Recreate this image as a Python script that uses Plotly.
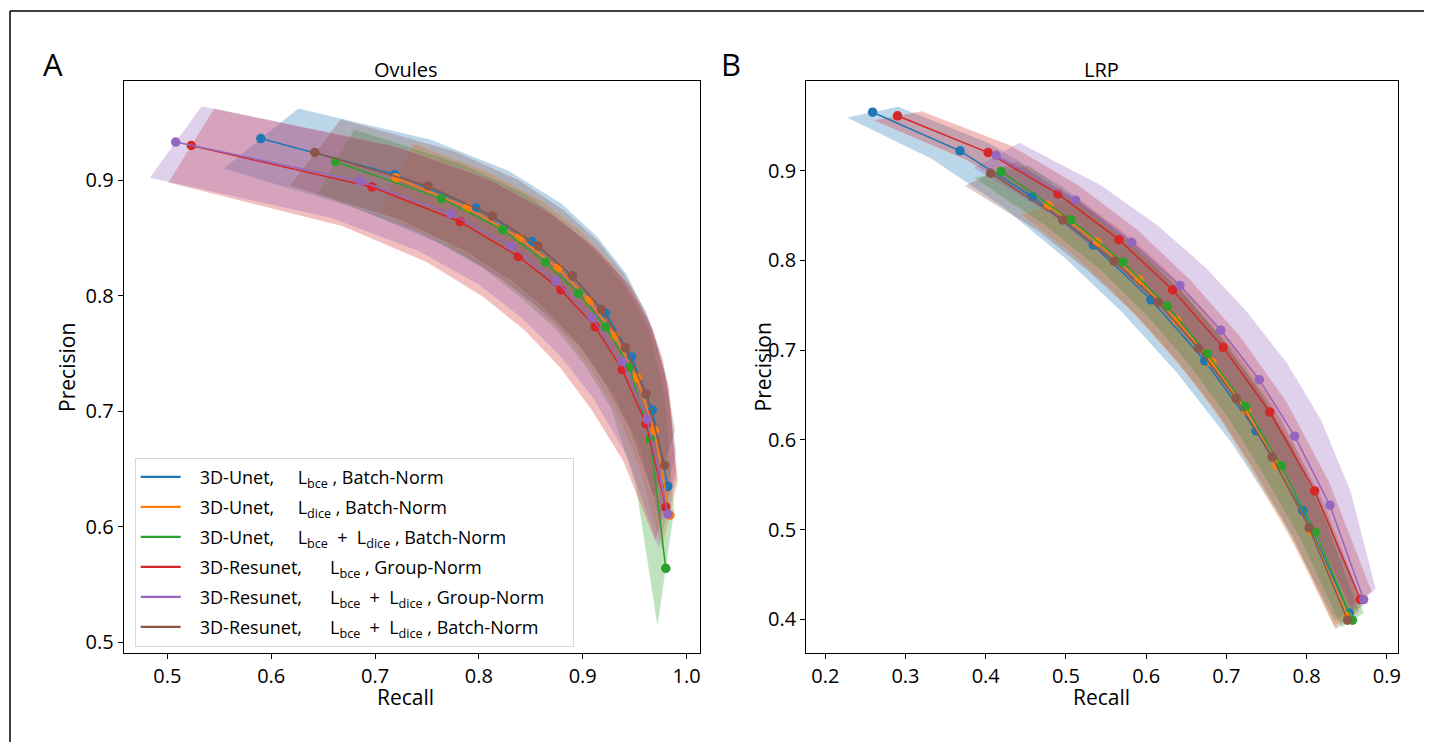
import plotly.graph_objects as go

# The page body has an 8px default margin; the figure is sized and placed so
# that reference pixel coordinates map straight onto the screenshot.
OFF = 8
W, H = 1432 - OFF, 742 - OFF

# ---------------- data ----------------
SP = "\u00a0"
SERIES_LABELS = [
    SP * 3 + "3D-Unet," + SP * 5 + "L<sub>bce</sub>" + SP + ", Batch-Norm",
    SP * 3 + "3D-Unet," + SP * 5 + "L<sub>dice</sub>" + SP + ", Batch-Norm",
    SP * 3 + "3D-Unet," + SP * 5 + "L<sub>bce</sub>" + SP * 2 + "+" + SP * 2 + "L<sub>dice</sub>" + SP + ", Batch-Norm",
    SP * 3 + "3D-Resunet," + SP * 6 + "L<sub>bce</sub>" + SP + ", Group-Norm",
    SP * 3 + "3D-Resunet," + SP * 6 + "L<sub>bce</sub>" + SP * 2 + "+" + SP * 2 + "L<sub>dice</sub>" + SP + ", Group-Norm" + SP * 5,
    SP * 3 + "3D-Resunet," + SP * 6 + "L<sub>bce</sub>" + SP * 2 + "+" + SP * 2 + "L<sub>dice</sub>" + SP + ", Batch-Norm",
]

# Panel A : Ovules
ov_unet_bce_recall = [0.590, 0.719, 0.797, 0.851, 0.890, 0.922, 0.947, 0.967, 0.982]
ov_unet_bce_precision = [0.936, 0.905, 0.876, 0.847, 0.817, 0.785, 0.747, 0.701, 0.635]
ov_unet_bce_recall_sd = [0.036, 0.035, 0.032, 0.028, 0.024, 0.020, 0.016, 0.012, 0.008]
ov_unet_bce_precision_sd = [0.026, 0.030, 0.032, 0.033, 0.034, 0.034, 0.034, 0.032, 0.030]

ov_unet_dice_recall = [0.720, 0.789, 0.839, 0.876, 0.906, 0.931, 0.952, 0.969, 0.984]
ov_unet_dice_precision = [0.902, 0.876, 0.850, 0.824, 0.796, 0.765, 0.729, 0.683, 0.610]
ov_unet_dice_recall_sd = [0.017, 0.020, 0.022, 0.022, 0.021, 0.020, 0.018, 0.014, 0.008]
ov_unet_dice_precision_sd = [0.030, 0.031, 0.032, 0.032, 0.032, 0.032, 0.032, 0.032, 0.030]

ov_unet_mix_recall = [0.662, 0.764, 0.823, 0.864, 0.896, 0.922, 0.945, 0.965, 0.980]
ov_unet_mix_precision = [0.916, 0.884, 0.857, 0.829, 0.802, 0.773, 0.738, 0.676, 0.564]
ov_unet_mix_recall_sd = [0.018, 0.020, 0.022, 0.022, 0.021, 0.020, 0.018, 0.014, 0.008]
ov_unet_mix_precision_sd = [0.028, 0.030, 0.031, 0.032, 0.032, 0.033, 0.035, 0.040, 0.050]

ov_res_bce_gn_recall = [0.523, 0.697, 0.782, 0.838, 0.879, 0.912, 0.938, 0.961, 0.980]
ov_res_bce_gn_precision = [0.930, 0.894, 0.864, 0.834, 0.805, 0.773, 0.736, 0.689, 0.617]
ov_res_bce_gn_recall_sd = [0.022, 0.028, 0.032, 0.034, 0.035, 0.034, 0.030, 0.022, 0.010]
ov_res_bce_gn_precision_sd = [0.032, 0.034, 0.035, 0.035, 0.035, 0.035, 0.034, 0.032, 0.030]

ov_res_mix_gn_recall = [0.508, 0.686, 0.773, 0.831, 0.874, 0.909, 0.938, 0.962, 0.982]
ov_res_mix_gn_precision = [0.933, 0.899, 0.871, 0.843, 0.813, 0.781, 0.743, 0.693, 0.611]
ov_res_mix_gn_recall_sd = [0.025, 0.028, 0.030, 0.032, 0.032, 0.031, 0.028, 0.020, 0.009]
ov_res_mix_gn_precision_sd = [0.031, 0.032, 0.033, 0.033, 0.033, 0.033, 0.032, 0.031, 0.030]

ov_res_mix_bn_recall = [0.642, 0.751, 0.813, 0.857, 0.890, 0.918, 0.941, 0.961, 0.979]
ov_res_mix_bn_precision = [0.924, 0.895, 0.869, 0.843, 0.817, 0.788, 0.755, 0.715, 0.653]
ov_res_mix_bn_recall_sd = [0.025, 0.026, 0.026, 0.025, 0.024, 0.022, 0.020, 0.016, 0.010]
ov_res_mix_bn_precision_sd = [0.029, 0.030, 0.031, 0.031, 0.031, 0.031, 0.031, 0.031, 0.030]

# Panel B : LRP
lrp_unet_bce_recall = [0.259, 0.368, 0.458, 0.534, 0.606, 0.673, 0.737, 0.795, 0.853]
lrp_unet_bce_precision = [0.965, 0.922, 0.871, 0.817, 0.756, 0.688, 0.610, 0.521, 0.407]
lrp_unet_bce_recall_sd = [0.032, 0.035, 0.036, 0.036, 0.036, 0.034, 0.030, 0.025, 0.018]
lrp_unet_bce_precision_sd = [0.006, 0.009, 0.012, 0.014, 0.014, 0.014, 0.014, 0.012, 0.008]

lrp_unet_dice_recall = [0.478, 0.539, 0.591, 0.638, 0.682, 0.725, 0.763, 0.805, 0.851]
lrp_unet_dice_precision = [0.861, 0.820, 0.778, 0.733, 0.686, 0.632, 0.572, 0.499, 0.403]
lrp_unet_dice_recall_sd = [0.034, 0.034, 0.034, 0.033, 0.032, 0.030, 0.028, 0.024, 0.017]
lrp_unet_dice_precision_sd = [0.010, 0.011, 0.012, 0.013, 0.013, 0.013, 0.012, 0.011, 0.011]

lrp_unet_mix_recall = [0.419, 0.506, 0.571, 0.626, 0.676, 0.724, 0.768, 0.811, 0.857]
lrp_unet_mix_precision = [0.899, 0.845, 0.798, 0.749, 0.696, 0.637, 0.571, 0.497, 0.399]
lrp_unet_mix_recall_sd = [0.034, 0.030, 0.028, 0.026, 0.025, 0.024, 0.022, 0.018, 0.014]
lrp_unet_mix_precision_sd = [0.007, 0.008, 0.009, 0.010, 0.010, 0.010, 0.010, 0.009, 0.008]

lrp_res_bce_gn_recall = [0.290, 0.403, 0.490, 0.566, 0.633, 0.696, 0.754, 0.810, 0.867]
lrp_res_bce_gn_precision = [0.961, 0.920, 0.874, 0.823, 0.767, 0.703, 0.631, 0.543, 0.422]
lrp_res_bce_gn_recall_sd = [0.030, 0.028, 0.025, 0.023, 0.022, 0.022, 0.021, 0.018, 0.014]
lrp_res_bce_gn_precision_sd = [0.005, 0.008, 0.010, 0.011, 0.011, 0.011, 0.011, 0.010, 0.009]

lrp_res_mix_gn_recall = [0.413, 0.512, 0.582, 0.642, 0.693, 0.741, 0.785, 0.829, 0.871]
lrp_res_mix_gn_precision = [0.917, 0.867, 0.820, 0.772, 0.722, 0.667, 0.604, 0.527, 0.422]
lrp_res_mix_gn_recall_sd = [0.029, 0.031, 0.032, 0.032, 0.033, 0.034, 0.033, 0.026, 0.015]
lrp_res_mix_gn_precision_sd = [0.014, 0.017, 0.019, 0.020, 0.020, 0.019, 0.018, 0.015, 0.012]

lrp_res_mix_bn_recall = [0.406, 0.496, 0.560, 0.615, 0.665, 0.712, 0.757, 0.803, 0.851]
lrp_res_mix_bn_precision = [0.897, 0.845, 0.799, 0.753, 0.702, 0.646, 0.581, 0.502, 0.399]
lrp_res_mix_bn_recall_sd = [0.032, 0.030, 0.030, 0.029, 0.028, 0.027, 0.025, 0.020, 0.015]
lrp_res_mix_bn_precision_sd = [0.014, 0.013, 0.013, 0.013, 0.013, 0.012, 0.012, 0.011, 0.010]

X_TICKS_A = [0.5, 0.6, 0.7, 0.8, 0.9, 1.0]
Y_TICKS_A = [0.5, 0.6, 0.7, 0.8, 0.9]
X_TICKS_B = [0.2, 0.3, 0.4, 0.5, 0.6, 0.7, 0.8, 0.9]
Y_TICKS_B = [0.4, 0.5, 0.6, 0.7, 0.8, 0.9]

# ---------------- style ----------------
COLORS = [(31, 119, 180), (255, 127, 14), (44, 160, 44),
          (214, 39, 40), (148, 103, 189), (140, 86, 75)]
FONT = "Open Sans, DejaVu Sans, sans-serif"

panel_a = [
    (ov_unet_bce_recall, ov_unet_bce_precision, ov_unet_bce_recall_sd, ov_unet_bce_precision_sd),
    (ov_unet_dice_recall, ov_unet_dice_precision, ov_unet_dice_recall_sd, ov_unet_dice_precision_sd),
    (ov_unet_mix_recall, ov_unet_mix_precision, ov_unet_mix_recall_sd, ov_unet_mix_precision_sd),
    (ov_res_bce_gn_recall, ov_res_bce_gn_precision, ov_res_bce_gn_recall_sd, ov_res_bce_gn_precision_sd),
    (ov_res_mix_gn_recall, ov_res_mix_gn_precision, ov_res_mix_gn_recall_sd, ov_res_mix_gn_precision_sd),
    (ov_res_mix_bn_recall, ov_res_mix_bn_precision, ov_res_mix_bn_recall_sd, ov_res_mix_bn_precision_sd),
]
panel_b = [
    (lrp_unet_bce_recall, lrp_unet_bce_precision, lrp_unet_bce_recall_sd, lrp_unet_bce_precision_sd),
    (lrp_unet_dice_recall, lrp_unet_dice_precision, lrp_unet_dice_recall_sd, lrp_unet_dice_precision_sd),
    (lrp_unet_mix_recall, lrp_unet_mix_precision, lrp_unet_mix_recall_sd, lrp_unet_mix_precision_sd),
    (lrp_res_bce_gn_recall, lrp_res_bce_gn_precision, lrp_res_bce_gn_recall_sd, lrp_res_bce_gn_precision_sd),
    (lrp_res_mix_gn_recall, lrp_res_mix_gn_precision, lrp_res_mix_gn_recall_sd, lrp_res_mix_gn_precision_sd),
    (lrp_res_mix_bn_recall, lrp_res_mix_bn_precision, lrp_res_mix_bn_recall_sd, lrp_res_mix_bn_precision_sd),
]

fig = go.Figure()


def add_panel(series, xa, ya):
    # shaded bands first, then all curves on top
    for (r, p, sr, sp), c in zip(series, COLORS):
        bx = [a + b for a, b in zip(r, sr)] + [a - b for a, b in zip(r, sr)][::-1]
        by = [a + b for a, b in zip(p, sp)] + [a - b for a, b in zip(p, sp)][::-1]
        fig.add_trace(go.Scatter(
            x=bx + [bx[0]], y=by + [by[0]], mode="lines", fill="toself",
            fillcolor="rgba(%d,%d,%d,0.3)" % c,
            line=dict(width=0.6, color="rgba(255,255,255,0.25)"),
            xaxis=xa, yaxis=ya, showlegend=False, hoverinfo="skip"))
    for (r, p, sr, sp), c in zip(series, COLORS):
        fig.add_trace(go.Scatter(
            x=r, y=p, mode="lines+markers",
            line=dict(color="rgb(%d,%d,%d)" % c, width=1.5),
            marker=dict(color="rgb(%d,%d,%d)" % c, size=9.5),
            xaxis=xa, yaxis=ya, showlegend=False))


add_panel(panel_a, "x", "y")
add_panel(panel_b, "x2", "y2")

for i, (lab, c) in enumerate(zip(SERIES_LABELS, COLORS)):
    fig.add_trace(go.Scatter(x=[None], y=[None], mode="lines", name=lab,
                             legendgroup="g%d" % i,
                             line=dict(color="rgb(%d,%d,%d)" % c, width=2.2),
                             xaxis="x", yaxis="y", showlegend=True))


def px(v):
    return (v - OFF) / W


def py(v):
    return 1 - (v - OFF) / H


axis_common = dict(showgrid=False, zeroline=False, showline=True, linecolor="black",
                   linewidth=1.3, mirror=True, ticks="outside", ticklen=5, tickwidth=1.2,
                   tickcolor="black", tickfont=dict(size=20, color="black", family=FONT))

fig.update_layout(
    width=W, height=H, margin=dict(l=0, r=0, t=0, b=0),
    paper_bgcolor="white", plot_bgcolor="white",
    font=dict(family=FONT, color="black"),
    xaxis=dict(domain=[px(124), px(701)], range=[0.458, 1.0125], anchor="y",
               tickvals=X_TICKS_A, ticktext=["%.1f" % v for v in X_TICKS_A], **axis_common),
    yaxis=dict(domain=[py(655), py(81)], range=[0.4905, 0.986], anchor="x",
               tickvals=Y_TICKS_A, ticktext=["%.1f" % v for v in Y_TICKS_A], **axis_common),
    xaxis2=dict(domain=[px(808), px(1401)], range=[0.1764, 0.9139], anchor="y2",
                tickvals=X_TICKS_B, ticktext=["%.1f" % v for v in X_TICKS_B], **axis_common),
    yaxis2=dict(domain=[py(655), py(81)], range=[0.3622, 1.0], anchor="x2",
                tickvals=Y_TICKS_B, ticktext=["%.1f" % v for v in Y_TICKS_B], **axis_common),
    legend=dict(x=px(135), y=py(459), xanchor="left", yanchor="top",
                bgcolor="white", bordercolor="#d9d9d9", borderwidth=1,
                font=dict(size=18, family=FONT, color="black"), itemwidth=40,
                tracegroupgap=3.6),
    showlegend=True,
)

ann = [
    dict(text="A", x=px(53), y=py(64), font=dict(size=31)),
    dict(text="B", x=px(733), y=py(64), font=dict(size=31)),
    dict(text="Ovules", x=px(407), y=py(70), font=dict(size=20)),
    dict(text="LRP", x=px(1104), y=py(70), font=dict(size=20)),
    dict(text="Recall", x=px(406), y=py(699), font=dict(size=21)),
    dict(text="Recall", x=px(1104), y=py(699), font=dict(size=21)),
    dict(text="Precision", x=px(67), y=py(368), font=dict(size=21), textangle=-90),
    dict(text="Precision", x=px(765), y=py(368), font=dict(size=21), textangle=-90),
]
for a in ann:
    a.update(xref="paper", yref="paper", showarrow=False, xanchor="center", yanchor="middle")
    a["font"].update(family=FONT, color="black")
fig.update_layout(annotations=ann)

fig.add_shape(type="line", xref="paper", yref="paper", x0=px(10), x1=1.01, y0=py(11), y1=py(11),
              line=dict(color="black", width=1.5))
fig.add_shape(type="line", xref="paper", yref="paper", x0=px(10), x1=px(10), y0=py(11), y1=-0.01,
              line=dict(color="black", width=1.5))

fig.write_html("out.html")
